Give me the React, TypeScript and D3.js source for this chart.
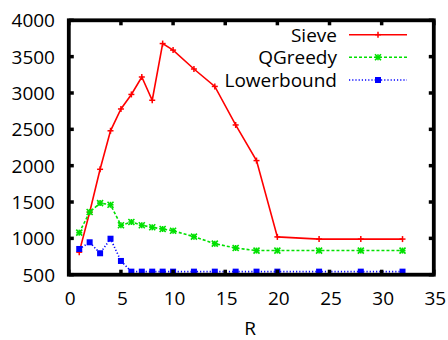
import React from "react";
import * as d3 from "d3";

const rValues = [1, 2, 3, 4, 5, 6, 7, 8, 9, 10, 12, 14, 16, 18, 20, 24, 28, 32];
const sieve = [810, 1360, 1950, 2480, 2780, 2980, 3220, 2900, 3680, 3590, 3330, 3090, 2560, 2070, 1020, 990, 990, 990];
const qgreedy = [1078, 1362, 1485, 1462, 1180, 1225, 1180, 1152, 1129, 1105, 1023, 927, 867, 832, 832, 832, 832, 832];
const lowerbound = [854, 946, 795, 995, 689, 542, 542, 542, 542, 542, 542, 542, 542, 542, 542, 542, 542, 542];
const xTicks = [0, 5, 10, 15, 20, 25, 30, 35];
const yTicks = [500, 1000, 1500, 2000, 2500, 3000, 3500, 4000];
const seriesNames = ["Sieve", "QGreedy", "Lowerbound"];

const W = 448;
const H = 340;
const left = 68.8;
const right = 433.8;
const top = 20.3;
const bottom = 274.7;
const font = "'Open Sans', 'DejaVu Sans', sans-serif";

export default function App() {
  const x = d3.scaleLinear().domain([0, 35]).range([left, right]);
  const y = d3.scaleLinear().domain([500, 4000]).range([bottom, top]);
  const line = d3
    .line<[number, number]>()
    .x((d) => x(d[0]))
    .y((d) => y(d[1]));

  const series = [
    { name: seriesNames[0], values: sieve, color: "#ff0000", dash: undefined as string | undefined, marker: "plus" },
    { name: seriesNames[1], values: qgreedy, color: "#00e000", dash: "3,2", marker: "star" },
    { name: seriesNames[2], values: lowerbound, color: "#0000ff", dash: "1.2,2", marker: "box" },
  ];

  const drawMarker = (kind: string, cx: number, cy: number, color: string, key: string) => {
    if (kind === "plus") {
      return (
        <g key={key} stroke={color} strokeWidth={1.5}>
          <line x1={cx - 3} x2={cx + 3} y1={cy} y2={cy} />
          <line x1={cx} x2={cx} y1={cy - 3} y2={cy + 3} />
        </g>
      );
    }
    if (kind === "star") {
      return (
        <g key={key} stroke={color} strokeWidth={1.6}>
          <line x1={cx - 3} x2={cx + 3} y1={cy - 3} y2={cy + 3} />
          <line x1={cx - 3} x2={cx + 3} y1={cy + 3} y2={cy - 3} />
          <line x1={cx - 3} x2={cx + 3} y1={cy} y2={cy} />
          <line x1={cx} x2={cx} y1={cy - 3} y2={cy + 3} />
        </g>
      );
    }
    return <rect key={key} x={cx - 3} y={cy - 3} width={6} height={6} fill={color} />;
  };

  const legendY = [34.7, 57.3, 80];

  return (
    <svg width={W} height={H} style={{ position: "absolute", left: 0, top: 0, background: "#fff" }} fontFamily={font}>
      <rect x={0} y={0} width={W} height={H} fill="#fff" />
      {series.map((s) => {
        const pts = rValues.map((r, i) => [r, s.values[i]] as [number, number]);
        return (
          <g key={s.name}>
            <path d={line(pts) || ""} fill="none" stroke={s.color} strokeWidth={1.6} strokeDasharray={s.dash} />
            {pts.map((p, i) => drawMarker(s.marker, x(p[0]), y(p[1]), s.color, s.name + i))}
          </g>
        );
      })}
      {/* legend */}
      {series.map((s, i) => (
        <g key={"leg" + s.name}>
          <text x={337} y={legendY[i]} textAnchor="end" dominantBaseline="central" fontSize={19} fill="#000">
            {s.name}
          </text>
          <line x1={349} x2={407} y1={legendY[i]} y2={legendY[i]} stroke={s.color} strokeWidth={1.6} strokeDasharray={s.dash} />
          {drawMarker(s.marker, 378, legendY[i], s.color, "lm" + i)}
        </g>
      ))}
      {/* frame */}
      <rect x={left} y={top} width={right - left} height={bottom - top} fill="none" stroke="#000" strokeWidth={3.8} />
      {/* ticks */}
      {xTicks.map((t) => (
        <g key={"xt" + t} stroke="#000" strokeWidth={3.5}>
          <line x1={x(t)} x2={x(t)} y1={bottom} y2={bottom - 5} />
          <line x1={x(t)} x2={x(t)} y1={top} y2={top + 5} />
        </g>
      ))}
      {yTicks.map((t) => (
        <g key={"yt" + t} stroke="#000" strokeWidth={3.5}>
          <line x1={left} x2={left + 5} y1={y(t)} y2={y(t)} />
          <line x1={right} x2={right - 5} y1={y(t)} y2={y(t)} />
        </g>
      ))}
      {xTicks.map((t) => (
        <text key={"xl" + t} x={x(t) + 1.5} y={305} textAnchor="middle" fontSize={19} fill="#000">
          {t}
        </text>
      ))}
      {yTicks.map((t) => (
        <text key={"yl" + t} x={55} y={y(t)} textAnchor="end" dominantBaseline="central" fontSize={19} fill="#000">
          {t}
        </text>
      ))}
      <text x={250} y={334.5} textAnchor="middle" fontSize={19} fill="#000">
        R
      </text>
    </svg>
  );
}
